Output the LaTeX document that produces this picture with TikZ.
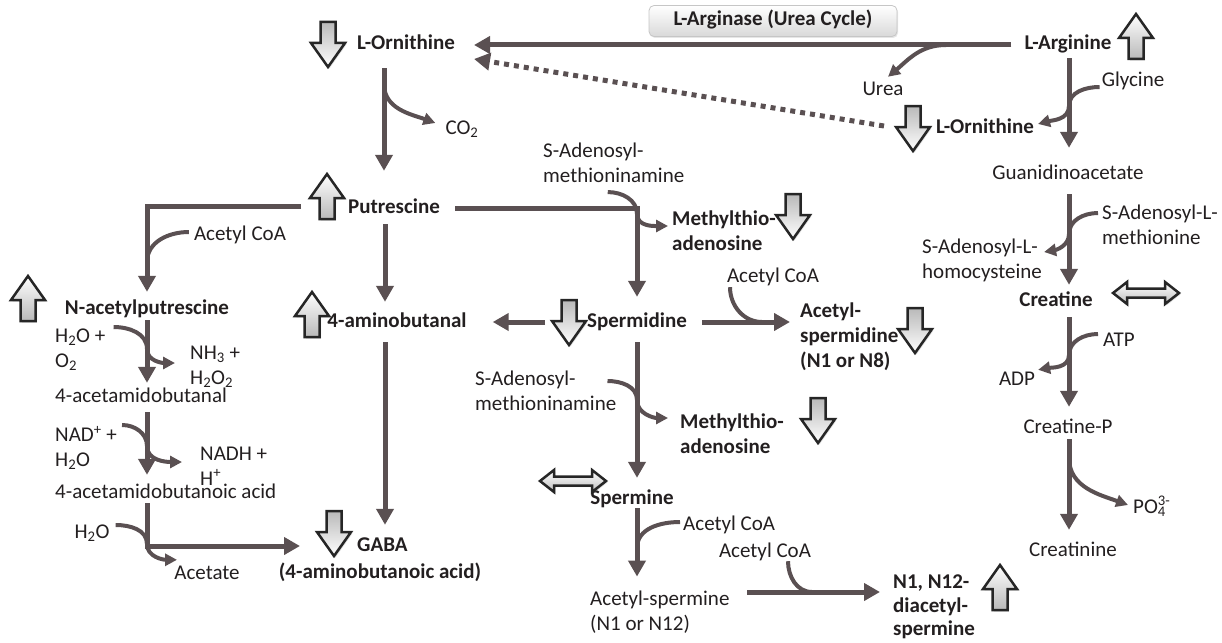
\documentclass[tikz,border=0pt]{standalone}
\usepackage{fontspec}
\setmainfont{Carlito}
\usetikzlibrary{arrows.meta,shadows}
\definecolor{pathway}{RGB}{90,80,82}
\definecolor{labeltext}{RGB}{35,31,32}

\tikzset{
  lbl/.style={inner sep=0pt, text=labeltext, font=\fontsize{21}{25}\selectfont, text height=14pt, text depth=4pt},
  blbl/.style={lbl, font=\fontsize{21}{25}\selectfont\bfseries},
  mlbl/.style={inner sep=0pt, text=labeltext, align=left, anchor=west, font=\fontsize{21}{25}\selectfont},
  bmlbl/.style={mlbl, font=\fontsize{21}{25}\selectfont\bfseries},
  pw/.style={draw=pathway, line width=5pt, -{Triangle[length=16pt,width=17pt]}},
  pwdot/.style={pw, dash pattern=on 5pt off 5pt},
  side/.style={draw=pathway, line width=4pt, -{Triangle[length=12pt,width=12pt]}},
  sidein/.style={draw=pathway, line width=4pt},
  ind/.style={draw=black!85, line width=2.5pt, line join=miter,
    drop shadow={opacity=0.25, shadow xshift=1.5pt, shadow yshift=-1.5pt}},
  downind/.pic={\path[ind, top color=gray!55, bottom color=white]
    (-7.5,-22) -- (7.5,-22) -- (7.5,-1) -- (17,-1) -- (0,23) -- (-17,-1) -- (-7.5,-1) -- cycle;},
  upind/.pic={\path[ind, top color=white, bottom color=gray!55]
    (-7.5,22) -- (7.5,22) -- (7.5,1) -- (17,1) -- (0,-23) -- (-17,1) -- (-7.5,1) -- cycle;},
  bothind/.pic={\path[ind, top color=white, bottom color=gray!50]
    (-33,0) -- (-19,-11) -- (-19,-4.5) -- (19,-4.5) -- (19,-11) -- (33,0) -- (19,11)
    -- (19,4.5) -- (-19,4.5) -- (-19,11) -- cycle;}
}

\begin{document}
\begin{tikzpicture}[x=1pt,y=-1pt]
        \useasboundingbox (0,0) rectangle (1222,642);
        % labels
        \node[blbl, draw=gray!45, line width=0.8pt, rounded corners=5pt, top color=white, bottom color=gray!30,
              minimum width=248pt, minimum height=31pt,
              drop shadow={opacity=0.2, shadow xshift=1pt, shadow yshift=-1.5pt}] (arginase) at (773,21) {L-Arginase (Urea Cycle)};
        \node[blbl] (orn1) at (406,45) {L-Ornithine};
        \node[blbl] (arg) at (1068,45) {L-Arginine};
        \node[lbl] (urea) at (883,90) {Urea};
        \node[lbl] (gly) at (1133,81) {Glycine};
        \node[blbl] (orn2) at (985,128) {L-Ornithine};
        \node[lbl] (co2) at (462,129) {CO\textsubscript{2}};
        \node[lbl] (guan) at (1068,174) {Guanidinoacetate};
        \node[mlbl] (samA) at (543,163) {S-Adenosyl-\\methioninamine};
        \node[blbl] (put) at (394,208) {Putrescine};
        \node[bmlbl] (mta1) at (672,231) {Methylthio-\\adenosine};
        \node[mlbl] (saml) at (1102,225) {S-Adenosyl-L-\\methionine};
        \node[mlbl] (sah) at (922,260) {S-Adenosyl-L-\\homocysteine};
        \node[lbl] (acoa1) at (240,235) {Acetyl CoA};
        \node[blbl] (nacp) at (147,309) {N-acetylputrescine};
        \node[mlbl] (hoo) at (55,350) {H\textsubscript{2}O +\\O\textsubscript{2}};
        \node[mlbl] (nhh) at (190,367) {NH\textsubscript{3} +\\H\textsubscript{2}O\textsubscript{2}};
        \node[lbl, anchor=west] (acal) at (55,397) {4-acetamidobutanal};
        \node[mlbl] (nad) at (55,448) {NAD\textsuperscript{+} +\\H\textsubscript{2}O};
        \node[mlbl] (nadh) at (200,466) {NADH +\\H\textsuperscript{+}};
        \node[lbl, anchor=west] (acacid) at (55,493) {4-acetamidobutanoic acid};
        \node[lbl] (h2o) at (92,533) {H\textsubscript{2}O};
        \node[lbl] (acet) at (207,574) {Acetate};
        \node[blbl] (amb) at (397,322) {4-aminobutanal};
        \node[blbl, anchor=west] (gaba) at (357,546) {GABA};
        \node[blbl] (gabaname) at (380,573) {(4-aminobutanoic acid)};
        \node[blbl] (spd) at (637,322) {Spermidine};
        \node[lbl] (acoa2) at (773,277) {Acetyl CoA};
        \node[bmlbl] (acspd) at (800,337) {Acetyl-\\spermidine\\(N1 or N8)};
        \node[mlbl] (samB) at (475,391) {S-Adenosyl-\\methioninamine};
        \node[bmlbl] (mta2) at (680,434) {Methylthio-\\adenosine};
        \node[blbl] (spm) at (632,499) {Spermine};
        \node[lbl, anchor=west] (acoa3) at (683,525) {Acetyl CoA};
        \node[mlbl] (acspm) at (590,612) {Acetyl-spermine\\(N1 or N12)};
        \node[lbl] (acoa4) at (765,552) {Acetyl CoA};
        \node[bmlbl, font=\fontsize{21}{23.5}\selectfont\bfseries] (diac) at (893,607) {N1, N12-\\diacetyl-\\spermine};
        \node[blbl] (crt) at (1056,301) {Creatine};
        \node[lbl, anchor=west] (atp) at (1103,341) {ATP};
        \node[lbl] (adp) at (1017,380) {ADP};
        \node[lbl] (crtp) at (1068,428) {Creatine-P};
        \node[lbl, anchor=west] (po4) at (1133,508) {PO\rlap{\textsubscript{4}}\textsuperscript{3-}};
        \node[lbl] (crtn) at (1073,551) {Creatinine};

        % up / down markers
        \foreach \p in {(328,44),(913,128),(793,216),(569,322),(915,330),(818,420),(334,533)}
        \pic at \p {downind};
        \foreach \p in {(1136,37),(327,197),(28,299),(312,315),(1000,588)}
        \pic at \p {upind};
        \pic at (1146,293) {bothind};
        \pic at (573,481) {bothind};

        % urea cycle
        \draw[pw, shorten <=13pt, shorten >=19pt] (arg.west) -- (orn1.east);
        \coordinate (ureaJ) at (946,45);
        \draw[side] (ureaJ) to[out=180,in=40] ([shift={(5,-4)}]urea.north);
        \coordinate (dotS) at (884,126);
        \draw[pwdot] (dotS) -- ([shift={(19,14)}]orn1.east);
        \coordinate (colR) at (1069,0);
        \draw[pw, shorten <=4pt, shorten >=17pt] (colR |- arg.south) -- (colR |- guan.north);
        \coordinate (glyJ) at (1069,106);
        \draw[side] ([shift={(-2,6)}]gly.west) to[out=180,in=90] (glyJ) to[out=-90,in=15] ([shift={(4,-4)}]orn2.east);

        % polyamines
        \coordinate (ornS) at (384,68);
        \draw[pw, shorten >=28pt] (ornS) -- (ornS |- put.north);
        \coordinate (co2J) at (384,84);
        \draw[side] (co2J) to[out=-90,in=160] ([shift={(-10,-6)}]co2.west);
        \coordinate (putL) at (301,206);
        \draw[pw, shorten >=8pt] (putL) -| (nacp.north);
        \coordinate (acJ1) at (147,262);
        \draw[sidein] ([shift={(-5,-3)}]acoa1.west) to[out=180,in=90] (acJ1);
        \draw[pw, shorten <=15pt, shorten >=16pt] (put.east) -| (spd.north);
        \coordinate (samJ1) at (637,214);
        \draw[side] ([shift={(-6,9)}]samA.south) to[out=0,in=90] (samJ1) to[out=-90,in=180] ([shift={(-4,-5)}]mta1.west);
        \coordinate (putS) at (385,224);
        \draw[pw, shorten >=11pt] (putS) -- (putS |- amb.north);
        \coordinate (ambS) at (385,342);
        \draw[pw, shorten >=12pt] (ambS) -- (ambS |- gaba.north);
        \coordinate (spdL) at (545,322);
        \draw[pw, shorten >=26pt] (spdL) -- (amb.east);
        \draw[pw, shorten <=15pt, shorten >=10pt] (spd.east) -- (spd.east -| acspd.west);
        \coordinate (acJ2) at (762,322);
        \draw[sidein] ([shift={(-43,1)}]acoa2.south) to[out=-90,in=180] (acJ2);
        \draw[pw, shorten <=11pt, shorten >=12pt] (spd.south) -- (spd.south |- spm.north);
        \coordinate (samJ2) at (637,400);
        \draw[side] ([shift={(-9,-10)}]samB.east) to[out=0,in=90] (samJ2) to[out=-90,in=180] ([shift={(-12,-16)}]mta2.west);
        \draw[pw, shorten >=14pt] (spd.south |- spm.south) -- (spd.south |- acspm.north);
        \coordinate (acJ3) at (637,548);
        \draw[sidein] ([shift={(-3,-3)}]acoa3.west) to[out=180,in=90] (acJ3);
        \coordinate (acspmR) at (747,592);
        \draw[pw, shorten >=13pt] (acspmR) -- (acspmR -| diac.west);
        \coordinate (acJ4) at (812,592);
        \draw[sidein] ([shift={(23,0)}]acoa4.south) to[out=-90,in=180] (acJ4);

        % GABA via N-acetylputrescine
        \draw[pw, shorten <=2pt, shorten >=5pt] (nacp.south) -- (nacp.south |- acal.north);
        \coordinate (hoJ) at (147,349);
        \draw[side] ([shift={(8,-23)}]hoo.east) to[out=0,in=90] (hoJ) to[out=-90,in=180] ([shift={(-15,-4)}]nhh.west);
        \draw[pw, shorten <=6pt, shorten >=9pt] (nacp.south |- acal.south) -- (nacp.south |- acacid.north);
        \coordinate (nadJ) at (147,446);
        \draw[side] ([shift={(5,-23)}]nad.east) to[out=0,in=90] (nadJ) to[out=-90,in=180] ([shift={(-18,-4)}]nadh.west);
        \draw[pw, shorten <=1pt] (nacp.south |- acacid.south) |- ([shift={(-57,0)}]gaba.west);
        \coordinate (h2oJ) at (147,544);
        \draw[side] ([shift={(6,-8)}]h2o.east) to[out=0,in=90] (h2oJ) to[out=-90,in=180] ([shift={(-30,-5)}]acet.north);

        % creatine
        \draw[pw, shorten <=11pt, shorten >=7pt] (colR |- guan.south) -- (colR |- crt.north);
        \coordinate (samLJ) at (1069,234);
        \draw[side] ([shift={(-4,-12)}]saml.west) to[out=180,in=90] (samLJ) to[out=-90,in=10] ([shift={(2,-8)}]sah.east);
        \draw[pw, shorten <=7pt, shorten >=12pt] (colR |- crt.south) -- (colR |- crtp.north);
        \coordinate (atpJ) at (1069,355);
        \draw[side] ([shift={(-5,-7)}]atp.west) to[out=180,in=90] (atpJ) to[out=-90,in=10] ([shift={(3,-1)}]adp.north east);
        \draw[pw, shorten <=2pt, shorten >=12pt] (colR |- crtp.south) -- (colR |- crtn.north);
        \coordinate (po4J) at (1069,458);
        \draw[side] (po4J) to[out=-90,in=160] ([shift={(-5,-3)}]po4.west);
\end{tikzpicture}
\end{document}
